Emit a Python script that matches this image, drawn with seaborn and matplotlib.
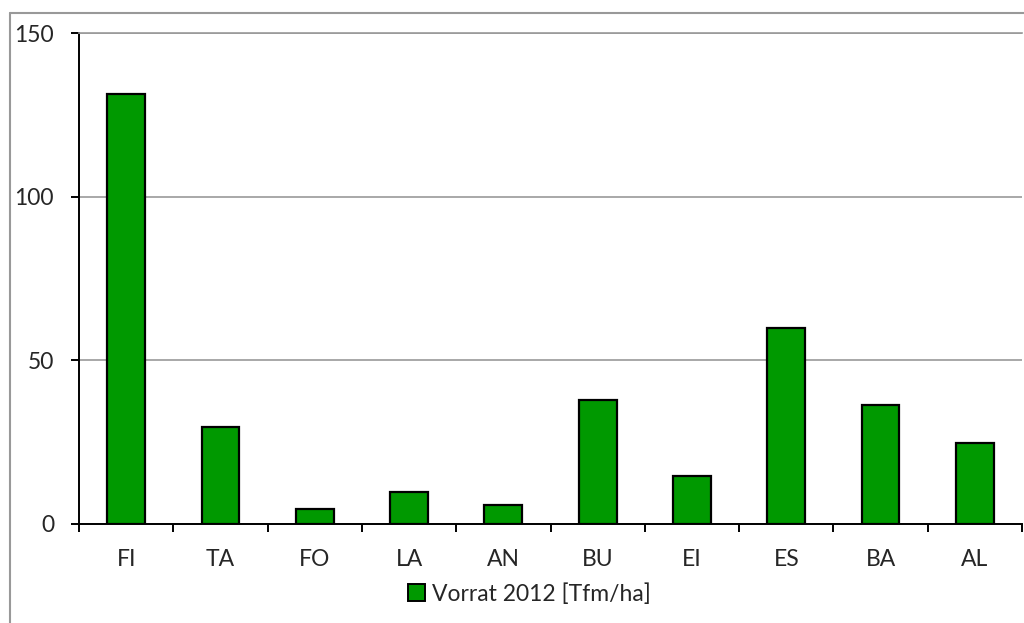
import seaborn as sns
import matplotlib.pyplot as plt
from matplotlib.lines import Line2D
from matplotlib.patches import Patch

# Vorrat 2012 per Baumart
species = ["FI", "TA", "FO", "LA", "AN", "BU", "EI", "ES", "BA", "AL"]
stock = [131.4, 29.5, 4.5, 9.8, 5.8, 37.9, 14.7, 59.9, 36.4, 24.7]
series_label = "Vorrat 2012 [Tfm/ha]"
y_ticks = [0, 50, 100, 150]

sns.set_style("white")
plt.rcParams['font.family'] = ['Lato', 'DejaVu Sans']

fig = plt.figure(figsize=(10.24, 6.23), dpi=100)
ax = fig.add_axes([79 / 1024, 1 - 523.7 / 623, (1022 - 79) / 1024, (523.7 - 33) / 623])

sns.barplot(x=species, y=stock, ax=ax, color="#009900", saturation=1,
            edgecolor="black", linewidth=1.6, width=0.4)

ax.set_ylim(0, 150)
ax.set_xlim(-0.5, len(species) - 0.5)
ax.set_yticks(y_ticks)
ax.yaxis.grid(True, color="#999999", linewidth=1.2)
ax.set_axisbelow(True)

# ticks between categories, labels centered
ax.set_xticks([i - 0.5 for i in range(len(species) + 1)], minor=True)
ax.tick_params(axis="x", which="major", length=0, pad=18, labelsize=16.5)
ax.tick_params(axis="x", which="minor", length=6, width=1.4, color="black", direction="out")
ax.tick_params(axis="y", length=6, width=1.4, color="black", direction="out", pad=12, labelsize=16.5)
ax.xaxis.set_ticks_position("bottom")
ax.yaxis.set_ticks_position("left")

for side in ["left", "bottom"]:
    ax.spines[side].set_color("black")
    ax.spines[side].set_linewidth(1.4)
ax.spines["right"].set_visible(False)
ax.spines["top"].set_color("#999999")
ax.spines["top"].set_linewidth(1.2)
ax.set_xlabel("")
ax.set_ylabel("")

handle = Patch(facecolor="#009900", edgecolor="black", linewidth=1.4)
fig.legend([handle], [series_label], loc="center", bbox_to_anchor=(529 / 1024, 1 - 594 / 623),
           frameon=False, fontsize=16.5, handlelength=0.75, handleheight=0.75, handletextpad=0.3)

# outer chart border
fig.add_artist(Line2D([10 / 1024, 10 / 1024], [0, 1 - 13 / 623], transform=fig.transFigure,
                      color="#999999", linewidth=1.5))
fig.add_artist(Line2D([10 / 1024, 1], [1 - 13 / 623, 1 - 13 / 623], transform=fig.transFigure,
                      color="#999999", linewidth=1.5))

fig.savefig("out.png", dpi=100)
